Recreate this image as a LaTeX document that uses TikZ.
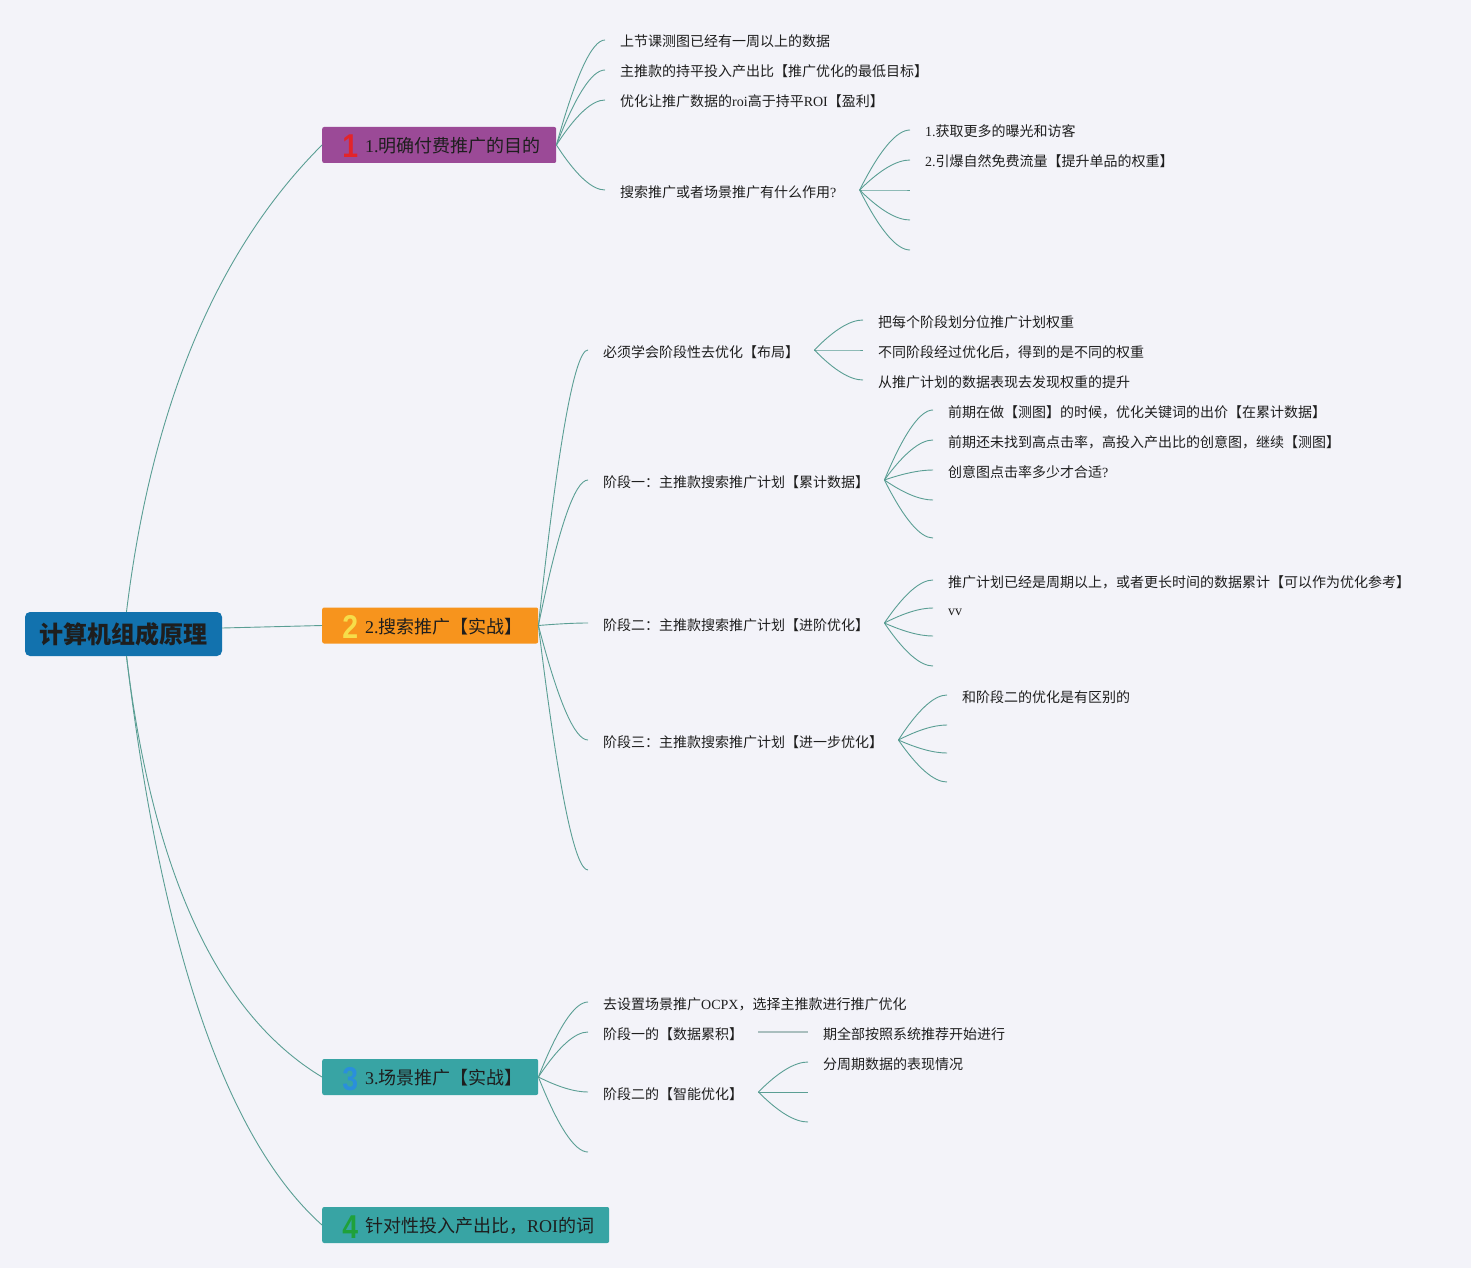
\documentclass[tikz,border=0pt]{standalone}
\usepackage{fontspec}
\usepackage{graphicx}
\setmainfont{Noto Sans CJK SC}
\newfontfamily\lat{Liberation Serif}
\newfontfamily\icf{Liberation Sans}
\usetikzlibrary{calc}
\definecolor{bg}{HTML}{F3F3F9}
\definecolor{ln}{HTML}{5A9E94}
\definecolor{lg}{HTML}{A9BEBE}
\definecolor{rootc}{HTML}{1272AE}
\definecolor{pur}{HTML}{9B4A97}
\definecolor{org}{HTML}{F7941D}
\definecolor{tea}{HTML}{38A4A4}
\definecolor{icA}{HTML}{E3242B}
\definecolor{icB}{HTML}{F6DD4A}
\definecolor{icC}{HTML}{2A8FDC}
\definecolor{icD}{HTML}{1FA13A}
\definecolor{txt}{HTML}{1E1E1E}
\newcommand\numicon[2]{\makebox[16pt]{\raisebox{-5.5pt}{\scalebox{0.86}[1]{\icf\bfseries\fontsize{33}{33}\selectfont\textcolor{#1}{#2}}}}\hspace{7pt}}
\newcommand\brtext[2]{\makebox[#1][l]{#2}}
\begin{document}
\begin{tikzpicture}[x=1pt,y=-1pt,
  conn/.style={draw=ln, line width=0.9pt},
  gline/.style={draw=lg, line width=1.6pt},
  fan/.style={to path={let \p1=(\tikztostart), \p2=(\tikztotarget) in
      .. controls ({\x1+0.4*(\x2-\x1)},{\y1+0.667*(\y2-\y1)}) and ({\x2-0.267*(\x2-\x1)},\y2) .. (\tikztotarget)}},
  rootn/.style={fill=rootc, rounded corners=5pt, minimum width=197pt, minimum height=44pt,
      inner sep=0pt, text height=19pt, text depth=1pt, font=\fontsize{24}{26}\selectfont\bfseries, text=txt},
  brn/.style={anchor=west, minimum height=36pt, inner xsep=20pt, inner ysep=0pt,
      rounded corners=2pt, text height=16pt, text depth=1pt,
      font=\fontsize{18}{20}\selectfont, text=txt},
  leaf/.style={anchor=west, inner xsep=15pt, inner ysep=0pt, text height=15pt, text depth=1pt,
      font=\fontsize{14}{16}\selectfont, text=txt}
]
\useasboundingbox (0,0) rectangle (1471,1268);
\fill[bg] (0,0) rectangle (1471,1268);

% root and main branches
\node[rootn] (root) at (123.5,634) {计算机组成原理};
\node[brn, fill=pur] (b1) at (322,145) {\brtext{194pt}{\numicon{icA}{1}{\lat 1.}明确付费推广的目的}};
\node[brn, fill=org] (b2) at (322,625.5) {\brtext{176pt}{\numicon{icB}{2}{\lat 2.}搜索推广【实战】}};
\node[brn, fill=tea] (b3) at (322,1077) {\brtext{176pt}{\numicon{icC}{3}{\lat 3.}场景推广【实战】}};
\node[brn, fill=tea] (b4) at (322,1225) {\brtext{247pt}{\numicon{icD}{4}针对性投入产出比，{\lat ROI}的词}};

% branch 1
\node[leaf] (a1) at (605,40) {上节课测图已经有一周以上的数据};
\node[leaf] (a2) at (605,70) {主推款的持平投入产出比【推广优化的最低目标】};
\node[leaf] (a3) at (605,100) {优化让推广数据的{\lat roi}高于持平{\lat ROI}【盈利】};
\node[leaf] (a4) at (605,190) {搜索推广或者场景推广有什么作用{\lat ?}};
\coordinate (a4s) at ([xshift=8pt]a4.east);
\node[leaf] (a41) at (910,130) {{\lat 1.}获取更多的曝光和访客};
\node[leaf] (a42) at (910,160) {{\lat 2.}引爆自然免费流量【提升单品的权重】};
\coordinate (a43) at (910,190);
\coordinate (a44) at (910,220);
\coordinate (a45) at (910,250);

% branch 2
\node[leaf] (d1) at (588,350) {必须学会阶段性去优化【布局】};
\node[leaf] (d11) at (863,320) {把每个阶段划分位推广计划权重};
\node[leaf] (d12) at (863,350) {不同阶段经过优化后，得到的是不同的权重};
\node[leaf] (d13) at (863,380) {从推广计划的数据表现去发现权重的提升};
\node[leaf] (d2) at (588,480) {阶段一：主推款搜索推广计划【累计数据】};
\node[leaf] (d21) at (933,410) {前期在做【测图】的时候，优化关键词的出价【在累计数据】};
\node[leaf] (d22) at (933,440) {前期还未找到高点击率，高投入产出比的创意图，继续【测图】};
\node[leaf] (d23) at (933,470) {创意图点击率多少才合适{\lat ?}};
\coordinate (d24) at (933,500);
\coordinate (d25) at (933,538);
\node[leaf] (d3) at (588,623) {阶段二：主推款搜索推广计划【进阶优化】};
\node[leaf] (d31) at (933,580) {推广计划已经是周期以上，或者更长时间的数据累计【可以作为优化参考】};
\node[leaf] (d32) at (933,608) {{\lat vv}};
\coordinate (d33) at (933,636);
\coordinate (d34) at (933,666);
\node[leaf] (d4) at (588,740) {阶段三：主推款搜索推广计划【进一步优化】};
\node[leaf] (d41) at (947,695) {和阶段二的优化是有区别的};
\coordinate (d42) at (947,725);
\coordinate (d43) at (947,753);
\coordinate (d44) at (947,782);
\coordinate (d5) at (588,870);

% branch 3
\node[leaf] (f1) at (588,1002) {去设置场景推广{\lat OCPX}，选择主推款进行推广优化};
\node[leaf] (f2) at (588,1032) {阶段一的【数据累积】};
\node[leaf] (f21) at (808,1032) {期全部按照系统推荐开始进行};
\node[leaf] (f3) at (588,1092) {阶段二的【智能优化】};
\node[leaf] (f31) at (808,1062) {分周期数据的表现情况};
\coordinate (f32) at (808,1092);
\coordinate (f33) at (808,1122);
\coordinate (f4) at (588,1152);

% root connectors
\draw[conn] ([xshift=3pt]root.north) .. controls (151.6,406) and (216.7,250.3) .. (b1.west);
\draw[conn] ([yshift=6pt]root.east) -- (b2.west);
\draw[conn] ([xshift=3pt]root.south) .. controls (152.9,874) and (218,1014.3) .. (b3.west);
\draw[conn] ([xshift=3pt]root.south) .. controls (161.6,950) and (226.7,1139.7) .. (b4.west);

% branch 1 connectors
\foreach \t in {a1,a2,a3,a4} \draw[conn] (b1.east) to[fan] (\t.west);
\foreach \t in {a41,a42} \draw[conn] (a4s) to[fan] (\t.west);
\foreach \t in {a43,a44,a45} \draw[conn] (a4s) to[fan] (\t);

% branch 2 connectors
\foreach \t in {d1,d2,d3,d4} \draw[conn] (b2.east) to[fan] (\t.west);
\draw[conn] (b2.east) to[fan] (d5);
\foreach \t in {d11,d12,d13} \draw[conn] (d1.east) to[fan] (\t.west);
\foreach \t in {d21,d22,d23} \draw[conn] (d2.east) to[fan] (\t.west);
\foreach \t in {d24,d25} \draw[conn] (d2.east) to[fan] (\t);
\foreach \t in {d31,d32} \draw[conn] (d3.east) to[fan] (\t.west);
\foreach \t in {d33,d34} \draw[conn] (d3.east) to[fan] (\t);
\draw[conn] (d4.east) to[fan] (d41.west);
\foreach \t in {d42,d43,d44} \draw[conn] (d4.east) to[fan] (\t);

% branch 3 connectors
\foreach \t in {f1,f2,f3} \draw[conn] (b3.east) to[fan] (\t.west);
\draw[conn] (b3.east) to[fan] (f4);
\draw[gline] (f2.east) -- (f21.west);
\draw[conn] (f3.east) to[fan] (f31.west);
\foreach \t in {f32,f33} \draw[conn] (f3.east) to[fan] (\t);
\end{tikzpicture}
\end{document}
